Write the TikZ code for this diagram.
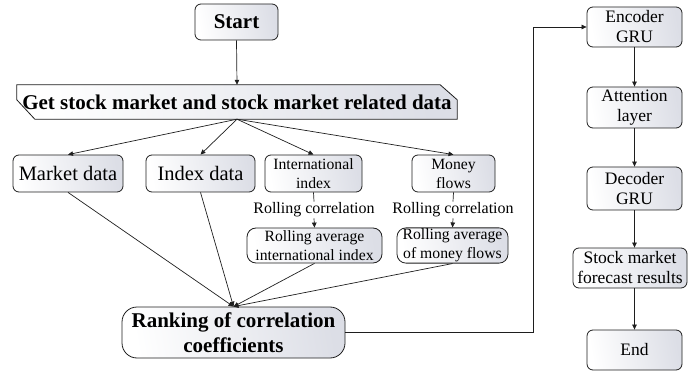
\documentclass[tikz,border=0pt]{standalone}
\usepackage{fontspec}
\setmainfont{Liberation Serif}
\newfontfamily\tnr{Liberation Serif}
\usetikzlibrary{arrows.meta,backgrounds,calc}
\definecolor{boxgray}{RGB}{220,222,230}
\definecolor{linegray}{RGB}{30,30,30}
\begin{document}
\begin{tikzpicture}[x=1pt,y=-1pt,
  box/.style={draw=linegray, line width=0.8pt, rounded corners=6pt,
    left color=white, right color=boxgray, shading angle=100,
    align=center, inner sep=1pt, text=black},
  fbold/.style={font=\tnr\fontsize{21}{25}\selectfont\bfseries},
  fbig/.style={font=\tnr\fontsize{20.5}{24}\selectfont},
  fmid/.style={font=\tnr\fontsize{15.7}{19}\selectfont},
  fright/.style={font=\tnr\fontsize{17.5}{20}\selectfont},
  lbl/.style={font=\tnr\fontsize{16}{19}\selectfont, inner sep=1pt},
  arr/.style={draw=linegray, line width=0.7pt, -{Triangle[length=5pt,width=4.5pt]}},
  ln/.style={draw=linegray, line width=0.7pt}
]
\useasboundingbox (0,0) rectangle (688,374);

% left part
\node[box, fbold, minimum width=83pt, minimum height=36pt] (start) at (236.5,22) {Start};
\node[fbold, minimum width=440pt, minimum height=34pt, inner sep=0pt] (get) at (237,102)
  {Get stock market and stock market related data};
\begin{pgfonlayer}{background}
  \draw[draw=linegray, line width=0.8pt, left color=white, right color=boxgray, shading angle=100]
    (get.north west) -- ([xshift=-17pt]get.north east) -- ([yshift=-15pt]get.north east)
    -- (get.south east) -- ([xshift=18pt]get.south west) -- ([yshift=-15pt]get.north west) -- cycle;
\end{pgfonlayer}

\node[box, fbig, minimum width=110pt, minimum height=37pt] (market) at (68,173.5) {Market data};
\node[box, fbig, minimum width=109pt, minimum height=37pt] (index) at (200.5,173.5) {Index data};
\node[box, fmid, minimum width=97pt, minimum height=37pt] (intl) at (313.5,173.5) {International\\index};
\node[box, fmid, minimum width=83pt, minimum height=37pt] (money) at (453.5,173.5) {Money\\flows};

\node[lbl] (rc1) at (314,210) {Rolling correlation};
\node[lbl] (rc2) at (453,210) {Rolling correlation};

\node[box, fmid, minimum width=135pt, minimum height=35pt, rounded corners=9pt] (ravg1) at (314.5,245.5) {Rolling average\\international index};
\node[box, fmid, minimum width=111pt, minimum height=35pt, rounded corners=9pt] (ravg2) at (452.5,245.5) {Rolling average\\of money flows};

\node[box, fbold, minimum width=223pt, minimum height=51pt, rounded corners=15pt] (rank) at (233.5,332.5) {Ranking of correlation\\coefficients};

% right column
\node[box, fright, minimum width=95pt, minimum height=40pt] (enc) at (634.5,27) {Encoder\\GRU};
\node[box, fright, minimum width=95pt, minimum height=41pt] (att) at (634.5,107.5) {Attention\\layer};
\node[box, fright, minimum width=95pt, minimum height=43pt] (dec) at (634.5,188.5) {Decoder\\GRU};
\node[box, fright, minimum width=114pt, minimum height=40pt] (fore) at (630,268) {Stock market\\forecast results};
\node[box, fright, minimum width=95pt, minimum height=40pt] (end) at (634.5,350) {End};

\coordinate (bend) at (533,332.5);

% connectors
\draw[arr] (start.south) -- (get.north);
\draw[arr] (get.south) -- (market.north);
\draw[arr] (get.south) -- (index.north);
\draw[arr] (get.south) -- (intl.north);
\draw[arr] (get.south) -- (money.north);

\draw[ln] (intl.south) -- (rc1.north);
\draw[arr] (rc1.south) -- (ravg1.north);
\draw[ln] (money.south) -- (rc2.north);
\draw[arr] (rc2.south) -- (ravg2.north);

\draw[arr] (market.south) -- (rank.north);
\draw[arr] (index.south) -- (rank.north);
\draw[arr] (ravg1.south) -- (rank.north);
\draw[arr] (ravg2.south) -- (rank.north);

\draw[arr] (rank.east) -- (bend) |- (enc.west);

\draw[arr] (enc.south) -- (att.north);
\draw[arr] (att.south) -- (dec.north);
\draw[arr] (dec.south) -- (dec.south |- fore.north);
\draw[arr] (end.north |- fore.south) -- (end.north);
\end{tikzpicture}
\end{document}
